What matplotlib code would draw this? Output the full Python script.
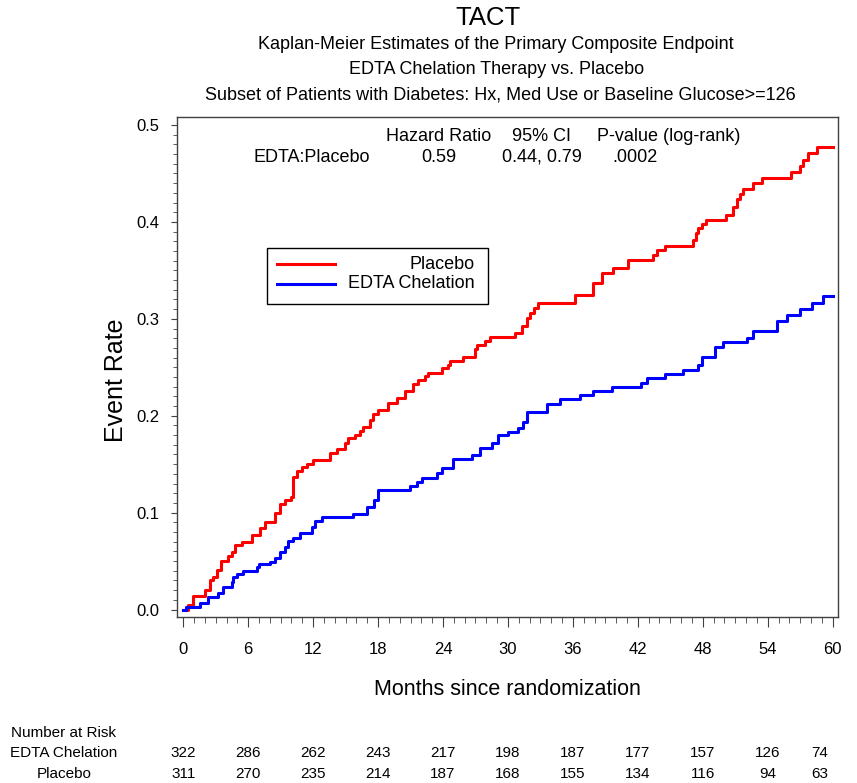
import numpy as np
import matplotlib
matplotlib.use('Agg')
import matplotlib.pyplot as plt
from matplotlib.patches import Rectangle
from matplotlib.lines import Line2D
from matplotlib.transforms import blended_transform_factory

plt.rcParams['font.family'] = ['Liberation Sans', 'DejaVu Sans']

# Kaplan-Meier step points (month of event, cumulative event rate after it)
placebo_months = [0, 0.46, 0.92, 2.0, 2.47, 2.77, 3.14, 3.45, 4.16, 4.47, 4.78, 5.39,
                  6.32, 7.09, 7.55, 8.47, 8.93, 9.4, 10.0, 10.16, 10.48, 10.94, 11.4,
                  12.0, 13.6, 14.17, 14.94, 15.25, 15.86, 16.33, 16.63, 17.25, 17.54,
                  18.02, 18.94, 19.72, 20.48, 21.25, 21.71, 22.33, 22.64, 23.87, 24.49,
                  24.64, 25.87, 26.95, 27.16, 27.88, 28.34, 30.65, 31.27, 31.73, 32.03,
                  32.4, 32.8, 36.19, 37.88, 38.66, 39.73, 41.12, 43.43, 43.74, 44.51,
                  47.07, 47.37, 47.58, 47.9, 48.3, 50.14, 50.82, 51.19, 51.44, 51.74,
                  52.61, 53.44, 56.12, 56.98, 57.29, 57.75, 58.58, 60.0]
placebo_rate = [0, 0.0046, 0.0139, 0.0201, 0.0304, 0.0332, 0.0408, 0.050, 0.0552, 0.0597,
                0.0666, 0.0693, 0.0769, 0.0838, 0.0906, 0.0999, 0.1089, 0.113, 0.1164,
                0.137, 0.1432, 0.1474, 0.150, 0.1543, 0.1612, 0.1653, 0.1721, 0.1767,
                0.180, 0.1845, 0.1887, 0.1956, 0.2018, 0.2059, 0.2134, 0.218, 0.2255,
                0.2327, 0.2368, 0.2413, 0.2438, 0.2489, 0.2523, 0.2568, 0.2609, 0.2685,
                0.273, 0.2771, 0.2809, 0.285, 0.2926, 0.3005, 0.3057, 0.3108, 0.316,
                0.3246, 0.3366, 0.347, 0.3521, 0.3607, 0.3658, 0.371, 0.3754, 0.3813,
                0.3882, 0.3934, 0.3978, 0.402, 0.4071, 0.4157, 0.4233, 0.4288, 0.434,
                0.4398, 0.445, 0.4518, 0.4577, 0.4639, 0.4708, 0.477, 0.477]

edta_months = [0, 0.25, 1.54, 2.31, 3.23, 3.7, 4.47, 4.62, 4.93, 5.49, 6.78, 7.03, 8.01,
               8.47, 8.93, 9.4, 9.7, 10.16, 10.78, 11.86, 12.17, 12.79, 15.71, 16.95,
               17.62, 18.02, 20.95, 21.56, 22.03, 23.41, 23.87, 24.95, 26.65, 27.41,
               28.49, 29.1, 30.03, 30.95, 31.41, 31.73, 33.58, 34.8, 36.65, 37.88, 39.58,
               42.26, 42.87, 44.51, 46.2, 47.58, 47.9, 49.13, 49.89, 52.06, 52.61, 54.83,
               55.75, 56.98, 58.06, 59.13, 60.0]
edta_rate = [0, 0.0029, 0.007, 0.0132, 0.0167, 0.0235, 0.0287, 0.0332, 0.0366, 0.040,
             0.0435, 0.047, 0.0493, 0.0528, 0.0597, 0.0648, 0.0707, 0.0735, 0.0786,
             0.0855, 0.0916, 0.0951, 0.0986, 0.1055, 0.113, 0.1233, 0.1274, 0.1319,
             0.1354, 0.1406, 0.1457, 0.155, 0.1594, 0.1664, 0.1715, 0.1801, 0.1835,
             0.187, 0.1938, 0.2041, 0.2121, 0.2169, 0.2214, 0.2255, 0.2299, 0.2341,
             0.2386, 0.243, 0.2472, 0.2523, 0.2609, 0.2706, 0.2757, 0.2805, 0.2874,
             0.298, 0.3039, 0.3098, 0.3166, 0.3235, 0.3235]

# Number at risk table
risk_months = [0, 6, 12, 18, 24, 30, 36, 42, 48, 54, 60]
risk_edta = [322, 286, 262, 243, 217, 198, 187, 177, 157, 126, 74]
risk_placebo = [311, 270, 235, 214, 187, 168, 155, 134, 116, 94, 63]

stats_header = ['Hazard Ratio', '95% CI', 'P-value (log-rank)']
stats_row = ['EDTA:Placebo', '0.59', '0.44, 0.79', '.0002']

W, H = 857, 783


def fx(px):
    return px / W


def fy(py):
    return 1 - py / H


fig = plt.figure(figsize=(W / 100, H / 100), dpi=100)
ax = fig.add_axes([fx(177.3), fy(616.7), fx(838.3) - fx(177.3), fy(116.7) - fy(616.7)])

ax.step(placebo_months, placebo_rate, where='post', color='#ff0000', lw=2.2)
ax.step(edta_months, edta_rate, where='post', color='#0000ff', lw=2.2)

ax.set_xlim(-0.55, 60.52)
ax.set_ylim(-0.0074, 0.5086)
ax.set_xticks(risk_months)
ax.set_xticks(np.arange(0, 61, 1), minor=True)
ax.set_yticks([0, 0.1, 0.2, 0.3, 0.4, 0.5])
ax.set_yticks(np.arange(0, 0.501, 0.01), minor=True)
ax.set_yticklabels(['0.0', '0.1', '0.2', '0.3', '0.4', '0.5'])

frame_col = '#404040'
for s in ax.spines.values():
    s.set_color(frame_col)
    s.set_linewidth(1.0)
ax.tick_params(axis='both', which='both', direction='out', color=frame_col, labelsize=12)
ax.tick_params(axis='x', which='major', length=7, pad=11)
ax.tick_params(axis='x', which='minor', length=4.5)
ax.tick_params(axis='y', which='major', length=4, pad=9)
ax.tick_params(axis='y', which='minor', length=3)

# legend box drawn by hand so the labels are right aligned
ax.add_patch(Rectangle((0.1352, 0.6254), 0.3344, 0.1126, transform=ax.transAxes,
                       fill=False, edgecolor='black', lw=1.0))
ax.add_line(Line2D([0.1508, 0.2386], [0.7048, 0.7048], transform=ax.transAxes,
                   color='#ff0000', lw=2.2))
ax.add_line(Line2D([0.1508, 0.2386], [0.6654, 0.6654], transform=ax.transAxes,
                   color='#0000ff', lw=2.2))
ax.text(0.4504, 0.7048, 'Placebo', transform=ax.transAxes, ha='right', va='center', fontsize=13)
ax.text(0.4504, 0.6654, 'EDTA Chelation', transform=ax.transAxes, ha='right', va='center', fontsize=13)

# hazard ratio block
fig.text(fx(439), fy(140.7), stats_header[0], ha='center', va='baseline', fontsize=13)
fig.text(fx(541.7), fy(140.7), stats_header[1], ha='center', va='baseline', fontsize=13)
fig.text(fx(669), fy(140.7), stats_header[2], ha='center', va='baseline', fontsize=13)
fig.text(fx(311.7), fy(161.7), stats_row[0], ha='center', va='baseline', fontsize=13)
fig.text(fx(439), fy(161.7), stats_row[1], ha='center', va='baseline', fontsize=13)
fig.text(fx(541.5), fy(161.7), stats_row[2], ha='center', va='baseline', fontsize=13)
fig.text(fx(635), fy(161.7), stats_row[3], ha='center', va='baseline', fontsize=13)

# titles
fig.text(fx(488), fy(25), 'TACT', ha='center', va='baseline', fontsize=18.5)
fig.text(fx(496), fy(49), 'Kaplan-Meier Estimates of the Primary Composite Endpoint',
         ha='center', va='baseline', fontsize=13)
fig.text(fx(497), fy(74), 'EDTA Chelation Therapy vs. Placebo', ha='center', va='baseline', fontsize=13)
fig.text(fx(500), fy(99), 'Subset of Patients with Diabetes: Hx, Med Use or Baseline Glucose>=126',
         ha='center', va='baseline', fontsize=13)

# axis labels
fig.text(fx(507.8), fy(695), 'Months since randomization', ha='center', va='baseline', fontsize=15.5)
fig.text(fx(116), fy(380), 'Event Rate', rotation=90, ha='center', va='center', fontsize=18)

# number at risk
fig.text(fx(64), fy(736.7), 'Number at Risk', ha='center', va='baseline', fontsize=11)
fig.text(fx(64), fy(757.3), 'EDTA Chelation', ha='center', va='baseline', fontsize=11)
fig.text(fx(64), fy(778), 'Placebo', ha='center', va='baseline', fontsize=11)
tr = blended_transform_factory(ax.transData, fig.transFigure)
for i, m in enumerate(risk_months):
    xm = m if m < 60 else m - 1.2
    ax.text(xm, fy(757.3), str(risk_edta[i]), transform=tr, ha='center', va='baseline', fontsize=11)
    ax.text(xm, fy(778), str(risk_placebo[i]), transform=tr, ha='center', va='baseline', fontsize=11)

fig.savefig('out.png', dpi=100)
